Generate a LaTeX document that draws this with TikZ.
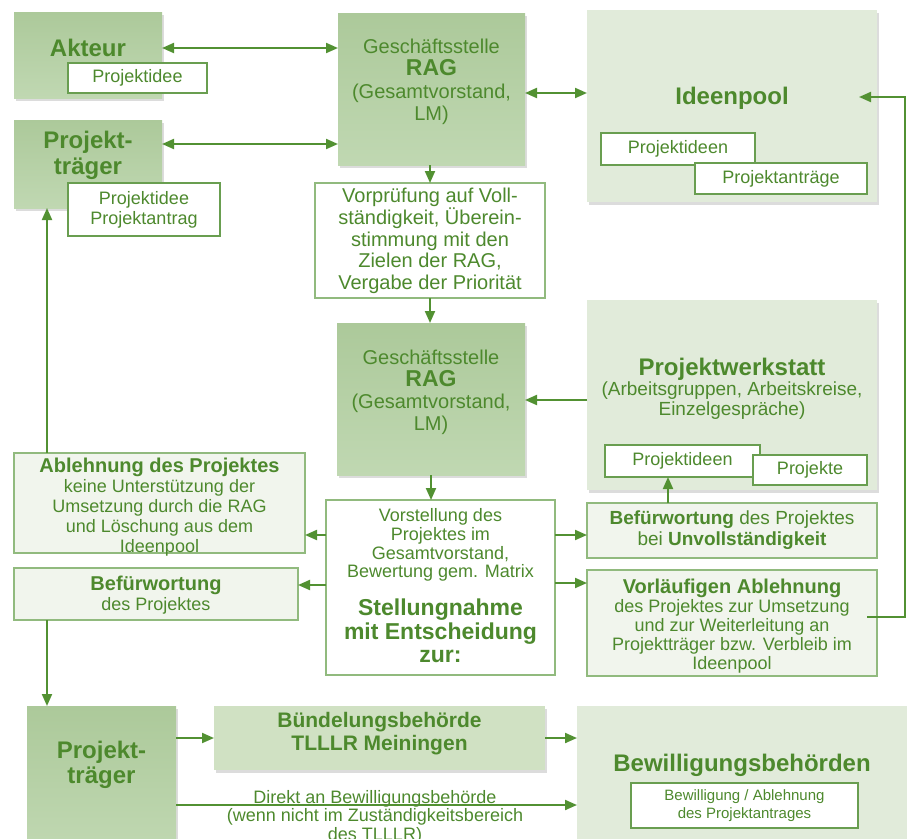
\documentclass[tikz,border=0pt]{standalone}
\usepackage{fontspec}
\setmainfont{Liberation Sans}
\usetikzlibrary{arrows.meta,positioning,calc,shadows}

\definecolor{txtgreen}{RGB}{77,137,45}
\definecolor{arrgreen}{RGB}{82,145,50}
\definecolor{boxdarkA}{RGB}{172,201,154}
\definecolor{boxdarkB}{RGB}{192,216,178}
\definecolor{boxlight}{RGB}{225,235,218}
\definecolor{boxmid}{RGB}{208,225,195}
\definecolor{bordgreen}{RGB}{145,186,126}
\definecolor{framefill}{RGB}{241,245,237}
\definecolor{subgreen}{RGB}{105,158,80}

\newcommand{\fsz}[2]{\fontsize{#1}{#2}\selectfont}

\tikzset{
  txt/.style={text=txtgreen, align=center, inner sep=0pt, font=\fsz{18}{20}},
  ttl/.style={txt, font=\bfseries\fsz{24}{25.5}},
  sz/.style 2 args={minimum width=#1, minimum height=#2},
  shad/.style={drop shadow={opacity=0.28, shadow xshift=1.5pt, shadow yshift=-2.5pt}},
  dbox/.style={inner sep=0pt, outer sep=0pt, top color=boxdarkA, bottom color=boxdarkB, shad},
  lbox/.style={inner sep=0pt, outer sep=0pt, fill=boxlight, shad},
  mbox/.style={inner sep=0pt, outer sep=0pt, fill=boxmid, shad},
  fbox/.style={inner sep=0pt, outer sep=0pt, draw=bordgreen, line width=1.5pt, fill=framefill},
  wbox/.style={inner sep=0pt, outer sep=0pt, draw=bordgreen, line width=1.5pt, fill=white},
  sbox/.style={txt, outer sep=0pt, draw=subgreen, line width=1.2pt, fill=white},
  arr/.style={draw=arrgreen, line width=2pt, -{Triangle[length=12pt,width=10pt]}},
  darr/.style={arr, {Triangle[length=12pt,width=10pt]}-{Triangle[length=12pt,width=10pt]}},
}

\begin{document}
\begin{tikzpicture}[x=1pt, y=-1pt]
    \useasboundingbox (0,0) rectangle (907,838);
    \clip (0,0) rectangle (907,838);

    % Akteur and Projekttraeger (top left)
    \node[dbox, sz={148}{86}] (akteur) at (88,55) {};
    \node[ttl] (akteurT) at (88,48) {Akteur};
    \node[sbox, sz={139}{30}] (akteurI) at (137.5,78) {Projektidee};

    \node[dbox, sz={148}{88}] (pt1) at (88,164) {};
    \node[ttl] (pt1T) at (88,155.5) {Projekt-\\träger};
    \node[sbox, sz={152}{53}] (pt1I) at (144,209.5) {Projektidee\\Projektantrag};

    % Geschaeftsstelle RAG (top)
    \node[dbox, sz={187}{152}] (gs1) at (431.5,89) {};
    \node[txt, font=\fsz{20}{22.5}] (gs1T) at (431.5,82)
        {Geschäftsstelle\\{\bfseries\fsz{23}{22.5}RAG}\\(Gesamtvorstand,\\LM)};

    % Ideenpool
    \node[lbox, sz={290}{192}] (ip) at (732,106) {};
    \node[ttl] (ipT) at (732,98) {Ideenpool};
    \node[sbox, sz={154}{32}] (ipI) at (678,149) {Projektideen};
    \node[sbox, sz={172}{31}] (ipA) at (781,178.5) {Projektanträge};

    % Vorpruefung
    \node[wbox, sz={230}{115}] (vp) at (430,240.5) {};
    \node[txt, font=\fsz{20}{21.7}] (vpT) at (430,241)
        {Vorprüfung auf Voll-\\ständigkeit, Überein-\\stimmung mit den\\Zielen der RAG,\\Vergabe der Priorität};

    % Geschaeftsstelle RAG (middle)
    \node[dbox, sz={188}{152}] (gs2) at (431,399) {};
    \node[txt, font=\fsz{20}{22}] (gs2T) at (431,392)
        {Geschäftsstelle\\{\bfseries\fsz{23}{22}RAG}\\(Gesamtvorstand,\\LM)};

    % Projektwerkstatt
    \node[lbox, sz={290}{190}] (pw) at (732,395) {};
    \node[txt, font=\fsz{19}{20}] (pwT) at (732,389)
        {{\bfseries\fsz{24}{21}Projektwerkstatt}\\(Arbeitsgruppen, Arbeitskreise,\\Einzelgespräche)};
    \node[sbox, sz={155}{32}] (pwI) at (682.5,461) {Projektideen};
    \node[sbox, sz={114}{30}] (pwP) at (810,470) {Projekte};

    % Entscheidungen
    \node[fbox, sz={291}{100}] (ab) at (159.5,503) {};
    \node[txt] (abT) at (159.5,507)
        {{\bfseries\fsz{20}{20}Ablehnung des Projektes}\\keine Unterstützung der\\Umsetzung durch die RAG\\und Löschung aus dem\\Ideenpool};

    \node[fbox, sz={284}{52}] (bf1) at (156,594) {};
    \node[txt] (bf1T) at (156,595)
        {{\bfseries\fsz{20}{20}Befürwortung}\\des Projektes};

    \node[wbox, sz={229}{175}] (vs) at (440.5,587.5) {};
    \node[txt, font=\fsz{18}{18.7}] (vsA) at (440.5,545)
        {Vorstellung des\\Projektes im\\Gesamtvorstand,\\Bewertung gem. Matrix};
    \node[txt, font=\bfseries\fsz{23}{23.5}] (vsB) at (440.5,631)
        {Stellungnahme\\mit Entscheidung\\zur:};

    \node[fbox, sz={290}{55}] (bf2) at (732,530.5) {};
    \node[txt, font=\fsz{19}{21}] (bf2T) at (732,530)
        {\textbf{Befürwortung} des Projektes\\bei \textbf{Unvollständigkeit}};

    \node[fbox, sz={290}{106}] (va) at (732,623) {};
    \node[txt, font=\fsz{18}{19}] (vaT) at (732,626)
        {{\bfseries\fsz{20}{19}Vorläufigen Ablehnung}\\des Projektes zur Umsetzung\\und zur Weiterleitung an\\Projektträger bzw. Verbleib im\\Ideenpool};

    % Antragsweg (bottom)
    \node[dbox, sz={149}{144}] (pt2) at (101.5,778) {};
    \node[ttl] (pt2T) at (101.5,765) {Projekt-\\träger};

    \node[mbox, sz={331}{64}] (bb) at (379.5,738) {};
    \node[txt, font=\bfseries\fsz{21}{23}] (bbT) at (379.5,734)
        {Bündelungsbehörde\\TLLLR Meiningen};

    \node[lbox, sz={333}{144}] (bw) at (743.5,778) {};
    \node[ttl] (bwT) at (742,765) {Bewilligungsbehörden};
    \node[sbox, sz={227}{45}, font=\fsz{15}{18}] (bwI) at (744.5,805.5)
        {Bewilligung / Ablehnung\\des Projektantrages};

    \node[txt, font=\fsz{18}{18.5}] (dir) at (375,817)
        {Direkt an Bewilligungsbehörde\\(wenn nicht im Zuständigkeitsbereich\\des TLLLR)};

    % Verbindungen
    \draw[darr] (akteur.east |- 0,48) -- (gs1.west |- 0,48);
    \draw[darr] (pt1.east |- 0,144) -- (gs1.west |- 0,144);
    \draw[darr] (gs1.east |- 0,93) -- (ip.west |- 0,93);
    \draw[arr] (gs1.south -| vp.north) -- (vp.north);
    \draw[arr] (vp.south) -- (vp.south |- gs2.north);
    \draw[arr] (pw.west |- 0,400) -- (gs2.east |- 0,400);
    \draw[arr] (gs2.south) -- (gs2.south |- vs.north);
    \draw[arr] (vs.west |- 0,535) -- (ab.east |- 0,535);
    \draw[arr] (vs.west |- 0,585) -- (bf1.east |- 0,585);
    \draw[arr] (vs.east |- 0,535) -- (bf2.west |- 0,535);
    \draw[arr] (vs.east |- 0,583) -- (va.west |- 0,583);
    \draw[arr] (ab.north -| 47,0) -- (pt1.south -| 47,0);
    \draw[arr] (bf1.south -| 47,0) -- (pt2.north -| 47,0);
    \draw[arr] (bf2.north -| 668,0) -- (pwI.south -| 668,0);
    \coordinate (vaR) at (905,617);
    \draw[arr] ($(va.east |- 0,617)+(-10,0)$) -- (vaR) |- ($(ip.east |- 0,97)+(-18,0)$);
    \draw[arr] (pt2.east |- 0,738) -- (bb.west |- 0,738);
    \draw[arr] (bb.east |- 0,738) -- (bw.west |- 0,738);
    \draw[arr] (pt2.east |- 0,805) -- (bw.west |- 0,805);
\end{tikzpicture}
\end{document}
